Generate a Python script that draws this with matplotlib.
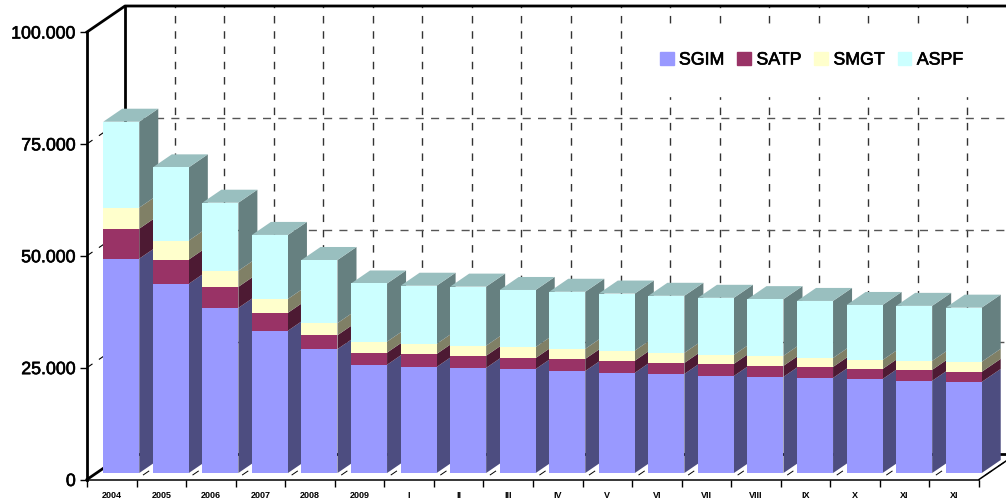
# import required libraries
import matplotlib
matplotlib.use('Agg')
import matplotlib.pyplot as plt
import matplotlib.patheffects as pe
from matplotlib.patches import Polygon, Rectangle

plt.rcParams['font.family'] = ['Liberation Sans', 'DejaVu Sans']

# chart data
categories = ['2004', '2005', '2006', '2007', '2008', '2009', 'I', 'II', 'III',
              'IV', 'V', 'VI', 'VII', 'VIII', 'IX', 'X', 'XI', 'XI']
sgim = [47900, 42300, 36900, 31800, 27700, 24200, 23700, 23500, 23250,
        22800, 22400, 22150, 21700, 21500, 21250, 21000, 20600, 20350]
satp = [6700, 5400, 4700, 4000, 3100, 2700, 2900, 2700, 2450,
        2700, 2700, 2450, 2700, 2450, 2450, 2250, 2450, 2250]
smgt = [4700, 4250, 3600, 3100, 2700, 2450, 2250, 2250, 2450,
        2250, 2250, 2250, 2000, 2250, 2000, 2000, 2000, 2250]
aspf = [19200, 16350, 15200, 14300, 14100, 13000, 13000, 13200, 12750,
        12750, 12750, 12750, 12750, 12650, 12750, 12300, 12300, 12100]
series_names = ['SGIM', 'SATP', 'SMGT', 'ASPF']
y_ticks = [0, 25000, 50000, 75000, 100000]
y_labels = ['0', '25.000', '50.000', '75.000', '100.000']

# face, side and top colours for each series
face_cols = ['#9999FF', '#993366', '#FFFFCC', '#CCFFFF']
side_cols = ['#4D4D80', '#4D1A33', '#808066', '#668080']
top_col = '#99BFBF'

W, H = 1006, 504
fig = plt.figure(figsize=(W / 100, H / 100), dpi=100, facecolor='white')
# front plane of the 3d box
ax = fig.add_axes([87 / W, 1 - 479.5 / H, 892 / W, 447.5 / H])
ax.set_xlim(0, len(categories))
ax.set_ylim(0, 100000)
ax.patch.set_visible(False)

# depth of the box in data units (38 px across, 26 px up)
DX = 38 / (892 / len(categories))
DY = 26 / 447.5 * 100000


def pt(x, v, d):
    return (x + d * DX, v + d * DY)


n = len(categories)

# back wall and floor grid
for i in range(1, n + 1):
    # drawn top down so the dashes line up with the top of the wall
    ax.plot(*zip(pt(i, 100000, 1), pt(i, 0, 1)), color='#333333', lw=1,
            ls=(4.2, (5.4, 5.6)), clip_on=False, zorder=1)
    ax.plot(*zip(pt(i, 0, 0), pt(i, 0, 1)), color='black', lw=0.7,
            ls=(7.7, (7.7, 8)), clip_on=False, zorder=1)
for v in y_ticks[1:4]:
    ax.plot(*zip(pt(0, v, 1), pt(n + 1, v, 1)), color='#555555', lw=1,
            ls=(0, (5.8, 5.2)), clip_on=False, zorder=1)
    ax.plot(*zip(pt(0, v, 0), pt(0, v, 1)), color='black', lw=0.8,
            ls=(0, (6, 7)), clip_on=False, zorder=1)

# white panel behind the legend
ax.add_patch(Rectangle((648 / W, 1 - 96 / H), 327 / W, 70 / H, transform=fig.transFigure,
                       color='white', clip_on=False, zorder=1.5))

# box outline
ax.plot(*zip(pt(0, 100000, 0), pt(0, 100000, 1), pt(n + 1, 100000, 1)),
        color='black', lw=2, clip_on=False, zorder=2)
ax.plot(*zip(pt(0, 0, 1), pt(0, 100000, 1)), color='black', lw=2, clip_on=False, zorder=2)
ax.plot(*zip(pt(0, 0, 0), pt(0, 0, 1)), color='black', lw=2, clip_on=False, zorder=2)
ax.plot(*zip(pt(n, 0, 0), pt(n, 0, 1)), color='black', lw=1.1, clip_on=False, zorder=2)
ax.plot(*zip(pt(0, 0, 1), pt(n + 1, 0, 1)), color='black', lw=2, clip_on=False, zorder=2)

# stacked 3d bars, left to right so each one covers the side of the last
bar_w = 36 / (892 / n)
d0, d1 = 0.25, 0.75
stack = [sgim, satp, smgt, aspf]
for i in range(n):
    z = 3 + i
    left = i + 0.5 - bar_w / 2
    right = left + bar_w
    base = 0
    for s, vals in enumerate(stack):
        top = base + vals[i]
        ax.add_patch(Polygon([pt(right, base, d0), pt(right, base, d1),
                              pt(right, top, d1), pt(right, top, d0)],
                             closed=True, fc=side_cols[s], ec='none', clip_on=False, zorder=z))
        # front face sits d0 back from the front plane
        ax.bar(pt(left, base, d0)[0], vals[i], width=bar_w, bottom=pt(left, base, d0)[1],
               align='edge', color=face_cols[s], clip_on=False, zorder=z + 0.2)
        base = top
    ax.add_patch(Polygon([pt(left, base, d0), pt(right, base, d0),
                          pt(right, base, d1), pt(left, base, d1)],
                         closed=True, fc=top_col, ec='none', clip_on=False, zorder=z + 0.1))

# axes, ticks and labels
for side in ['top', 'right']:
    ax.spines[side].set_visible(False)
ax.spines['left'].set_linewidth(2)
ax.spines['bottom'].set_linewidth(1.1)
ax.spines['left'].set_zorder(30)
ax.spines['bottom'].set_zorder(30)
ax.set_yticks(y_ticks)
ax.set_yticklabels(y_labels, fontsize=12.8)
ax.tick_params(axis='y', length=5, width=1, pad=3)
ax.set_xticks(range(n + 1))
ax.set_xticklabels([])
ax.set_xticks([i + 0.5 for i in range(n)], minor=True)
ax.set_xticklabels(categories, minor=True, fontsize=6.5, fontweight='bold')
ax.tick_params(axis='x', which='major', length=5, width=1)
ax.tick_params(axis='x', which='minor', length=0, pad=8)

# legend
handles = [Rectangle((0, 0), 1, 1, color=c) for c in face_cols]
leg = ax.legend(handles, series_names, ncols=4, loc='center', frameon=False,
                bbox_to_anchor=((811.5 - 87) / 892, (479.5 - 60) / 447.5),
                prop={'size': 12.8}, handlelength=0.78, handleheight=0.78,
                handletextpad=0.3, columnspacing=0.72, borderpad=0)
leg.set_zorder(40)

# thicken the regular weight a little, the original sits between regular and bold
thick = [pe.withStroke(linewidth=0.45, foreground='black')]
for t in ax.get_yticklabels() + leg.get_texts():
    t.set_path_effects(thick)

fig.savefig('out.png', dpi=100)
